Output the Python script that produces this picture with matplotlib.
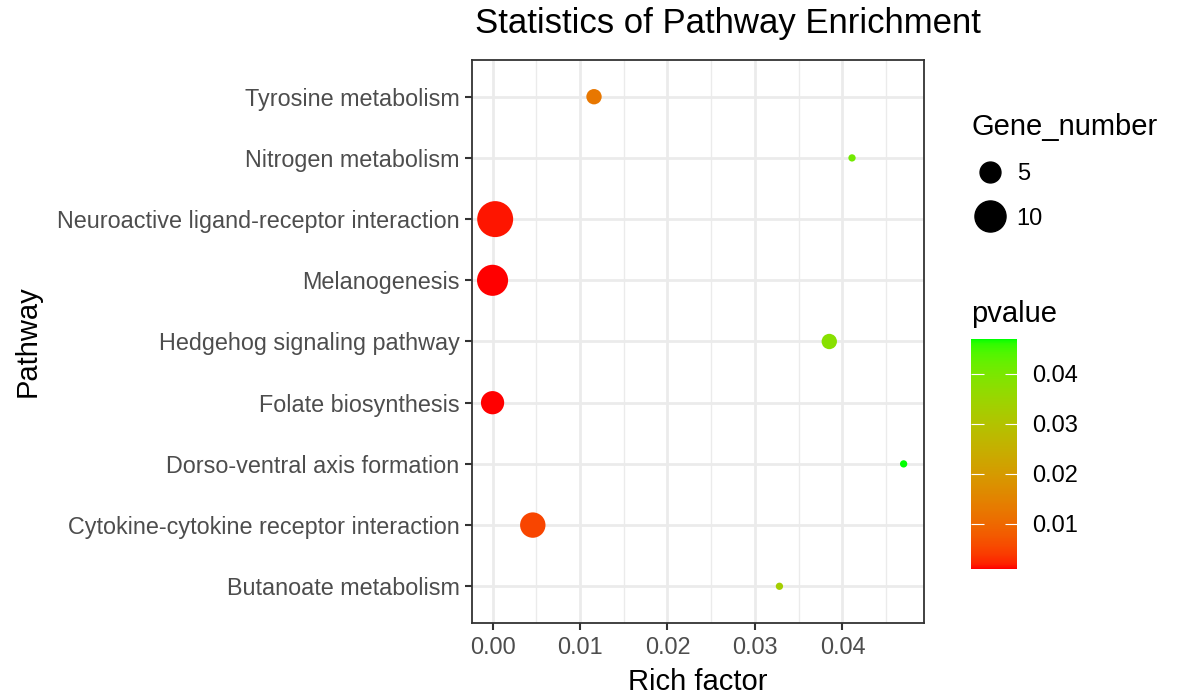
import numpy as np
import matplotlib
matplotlib.use('Agg')
import matplotlib.pyplot as plt
from matplotlib.colors import ListedColormap, Normalize
from matplotlib.lines import Line2D

plt.rcParams['font.family'] = ['Liberation Sans', 'DejaVu Sans']

# --- data (top to bottom as shown) ---
pathways = ['Tyrosine metabolism', 'Nitrogen metabolism',
            'Neuroactive ligand-receptor interaction', 'Melanogenesis',
            'Hedgehog signaling pathway', 'Folate biosynthesis',
            'Dorso-ventral axis formation', 'Cytokine-cytokine receptor interaction',
            'Butanoate metabolism']
rich_factor = [0.0116, 0.0411, 0.0003, 0.0000, 0.0385, 0.0000, 0.0470, 0.0046, 0.0328]
gene_number = [3, 1, 13, 10, 3, 6, 1, 7, 1]
pvalue = [0.0125, 0.041, 0.0015, 0.0009, 0.038, 0.001, 0.047, 0.005, 0.033]
size_breaks = [5, 10]
p_ticks = [0.01, 0.02, 0.03, 0.04]


# ggplot-like gradient red -> green interpolated in Lab space
def srgb_to_lab(rgb):
    rgb = np.asarray(rgb, dtype=float)
    lin = np.where(rgb <= 0.04045, rgb / 12.92, ((rgb + 0.055) / 1.055) ** 2.4)
    m = np.array([[0.4124, 0.3576, 0.1805],
                  [0.2126, 0.7152, 0.0722],
                  [0.0193, 0.1192, 0.9505]])
    xyz = m @ lin / np.array([0.95047, 1.0, 1.08883])
    f = np.where(xyz > 0.008856, np.cbrt(xyz), 7.787 * xyz + 16 / 116)
    return np.array([116 * f[1] - 16, 500 * (f[0] - f[1]), 200 * (f[1] - f[2])])


def lab_to_srgb(lab):
    L, a, b = lab
    fy = (L + 16) / 116
    fx = fy + a / 500
    fz = fy - b / 200
    f = np.array([fx, fy, fz])
    xyz = np.where(f ** 3 > 0.008856, f ** 3, (f - 16 / 116) / 7.787)
    xyz = xyz * np.array([0.95047, 1.0, 1.08883])
    minv = np.array([[3.2406, -1.5372, -0.4986],
                     [-0.9689, 1.8758, 0.0415],
                     [0.0557, -0.2040, 1.0570]])
    lin = minv @ xyz
    rgb = np.where(lin <= 0.0031308, 12.92 * lin, 1.055 * np.clip(lin, 0, None) ** (1 / 2.4) - 0.055)
    return np.clip(rgb, 0, 1)


lab_lo = srgb_to_lab([1, 0, 0])
lab_hi = srgb_to_lab([0, 1, 0])
cmap = ListedColormap([lab_to_srgb(lab_lo + t * (lab_hi - lab_lo)) for t in np.linspace(0, 1, 256)])
norm = Normalize(vmin=min(pvalue), vmax=max(pvalue))


def size_px(n):
    # point diameter in pixels, linear in sqrt(gene number)
    return -3.7 + 11.0 * np.sqrt(n)


def s_pts(n):
    return (size_px(np.asarray(n, dtype=float)) * 0.72) ** 2


fig = plt.figure(figsize=(11.78, 6.96), dpi=100)
ax = fig.add_axes([472 / 1178, 1 - 623 / 696, 452 / 1178, 563 / 696])

y = np.arange(len(pathways))[::-1] + 1
ax.scatter(rich_factor, y, s=s_pts(gene_number), c=pvalue, cmap=cmap, norm=norm,
           linewidths=0, zorder=3)

ax.set_xlim(-0.00235, 0.04933)
ax.set_ylim(0.4, len(pathways) + 0.6)
ax.set_yticks(y)
ax.set_yticklabels(pathways)
ax.set_xticks([0, 0.01, 0.02, 0.03, 0.04])
ax.set_xticklabels(['0.00', '0.01', '0.02', '0.03', '0.04'])
ax.set_xticks([0.005, 0.015, 0.025, 0.035, 0.045], minor=True)

ax.grid(True, which='major', color='#EBEBEB', linewidth=2.0, zorder=0)
ax.grid(True, which='minor', axis='x', color='#EBEBEB', linewidth=1.0, zorder=0)
ax.set_axisbelow(True)
for sp in ax.spines.values():
    sp.set_color('#333333')
    sp.set_linewidth(1.3)
ax.tick_params(axis='both', which='major', length=5, width=1.5, color='#333333',
               labelcolor='#4D4D4D', labelsize=16.8, pad=4)
ax.tick_params(axis='x', which='minor', length=0)

ax.set_xlabel('Rich factor', fontsize=21)
ax.set_ylabel('Pathway', fontsize=21)
ax.xaxis.set_label_coords(0.5, -(682 - 623) / 563)
ax.yaxis.set_label_coords(-(472 - 28) / 452, 0.5)
ax.xaxis.label.set_va('center')
ax.yaxis.label.set_va('center')
fig.text(728 / 1178, 1 - 23 / 696, 'Statistics of Pathway Enrichment', fontsize=25,
         ha='center', va='center')

# size legend
handles = [Line2D([], [], linestyle='none', marker='o', color='black',
                  markersize=size_px(b) * 0.72) for b in size_breaks]
leg = fig.legend(handles, [str(b) for b in size_breaks], title='Gene_number',
                 loc='upper left', bbox_to_anchor=(960 / 1178, 1 - 101 / 696),
                 frameon=False, fontsize=17, title_fontsize=21, labelspacing=0.95,
                 handlelength=1.5, handletextpad=0.4, borderpad=0)
leg._legend_box.align = 'left'

# colour legend
fig.text(971 / 1178, 1 - 314 / 696, 'pvalue', fontsize=21, ha='left', va='center')
cax = fig.add_axes([971 / 1178, 1 - 569 / 696, 46 / 1178, 230 / 696])
cb = fig.colorbar(plt.cm.ScalarMappable(norm=norm, cmap=cmap), cax=cax)
cb.outline.set_visible(False)
cb.set_ticks(p_ticks)
cb.set_ticklabels(['0.01', '0.02', '0.03', '0.04'])
cax.yaxis.set_ticks_position('both')
cax.tick_params(direction='in', length=9, width=0.8, color='white', labelsize=17,
                labelright=True, labelleft=False, pad=11)

fig.savefig('out.png', dpi=100)
